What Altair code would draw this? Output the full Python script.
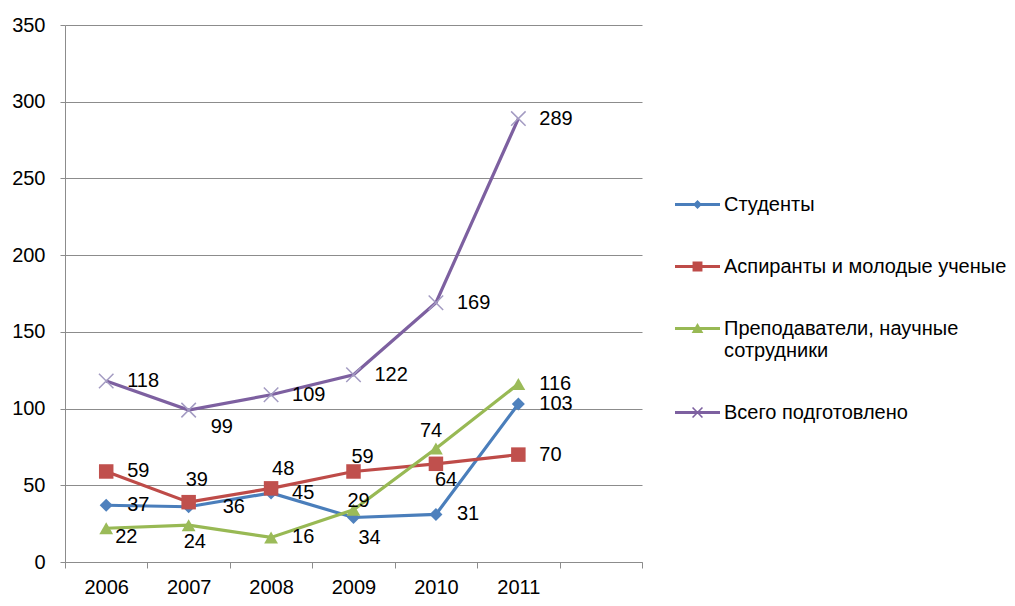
import math
import altair as alt
import pandas as pd

YEARS = ["2006", "2007", "2008", "2009", "2010", "2011"]
SERIES = [
    "Студенты",
    "Аспиранты и молодые ученые",
    "Преподаватели, научные сотрудники",
    "Всего подготовлено",
]
STUDENTS = [37, 36, 45, 29, 31, 103]
POSTGRADS = [59, 39, 48, 59, 64, 70]
TEACHERS = [22, 24, 16, 34, 74, 116]
TOTAL = [118, 99, 109, 122, 169, 289]
VALUES = [STUDENTS, POSTGRADS, TEACHERS, TOTAL]
Y_TICKS = [0, 50, 100, 150, 200, 250, 300, 350]

# styling
LINE_COLORS = ["#4A7EBB", "#BE4B48", "#98B954", "#7D60A0"]
MARK_COLORS = ["#4F81BD", "#C0504D", "#9BBB59", "#A39BC2"]
FONT = "Liberation Sans"
FS = 20
GRID = "#8C8C8C"
DEFAULT_NUDGE = (21, 0)
LABEL_NUDGE = {
    (3, "2007"): (22, 17),
    (1, "2007"): (-3, -22),
    (1, "2008"): (1, -19),
    (1, "2009"): (-2, -14),
    (1, "2010"): (-1, 16),
    (0, "2007"): (34, 0),
    (0, "2009"): (-6, -17),
    (2, "2006"): (9, 9),
    (2, "2007"): (-5, 17),
    (2, "2009"): (5, 28),
    (2, "2010"): (-16, -17),
}

rows = []
for si, (name, vals) in enumerate(zip(SERIES, VALUES)):
    for y, v in zip(YEARS, vals):
        dx, dy = LABEL_NUDGE.get((si, y), DEFAULT_NUDGE)
        rows.append({"series": name, "sidx": si, "year": y, "value": v, "ndx": dx, "ndy": dy})
df = pd.DataFrame(rows)

x_enc = alt.X(
    "year:O",
    scale=alt.Scale(type="band", domain=YEARS + [" "], paddingInner=0, paddingOuter=0),
    axis=alt.Axis(
        title=None, labelAngle=0, tickBand="extent", tickSize=6, labelPadding=9,
        labelFont=FONT, labelFontSize=FS, labelColor="#000000",
        domainColor=GRID, tickColor=GRID, grid=False,
    ),
)
y_enc = alt.Y(
    "value:Q",
    scale=alt.Scale(domain=[0, 350], nice=False, zero=True),
    axis=alt.Axis(
        title=None, values=Y_TICKS, grid=True, gridColor=GRID, gridOpacity=1,
        domainColor=GRID, tickColor=GRID, tickSize=5, labelPadding=15,
        labelFont=FONT, labelFontSize=FS, labelColor="#000000",
    ),
)


# legend symbol paths: a bar (the line) plus the marker, all filled
def bar(s=0.0):
    return f"M-1,{s-0.067:.3f}H1V{s+0.067:.3f}H-1Z"


def arm(x0, y0, x1, y1, w=0.035):
    dx, dy = x1 - x0, y1 - y0
    L = math.hypot(dx, dy)
    px, py = -dy / L * w, dx / L * w
    pts = [(x0 - px, y0 - py), (x1 - px, y1 - py), (x1 + px, y1 + py), (x0 + px, y0 + py)]
    return "M" + "L".join(f"{a:.3f},{b:.3f}" for a, b in pts) + "Z"


P_DIAMOND = bar() + "M0,-0.2L0.2,0L0,0.2L-0.2,0Z"
P_SQUARE = bar() + "M-0.22,-0.22H0.22V0.22H-0.22Z"
P_TRI = bar() + "M0,-0.24L0.26,0.2H-0.26Z"
P_X = bar() + arm(-0.22, -0.22, 0.22, 0.22) + arm(-0.22, 0.22, 0.22, -0.22)

label_expr = (
    f"datum.label === '{SERIES[2]}' ? ['Преподаватели, научные', 'сотрудники'] : datum.label"
)

legend = alt.Legend(
    title=None, orient="none", legendX=610, legendY=157, padding=0,
    symbolSize=2025, symbolStrokeWidth=0, symbolOpacity=1,
    labelFont=FONT, labelFontSize=FS, labelColor="#000000", labelLimit=500,
    labelOffset=4, rowPadding=29, labelExpr=label_expr,
)

base = alt.Chart(df)

# legend carrier: no rows drawn, only provides the merged color+shape legend
legend_layer = (
    base.transform_filter("false")
    .mark_point(filled=True, opacity=1)
    .encode(
        x=x_enc, y=y_enc,
        color=alt.Color("series:N", scale=alt.Scale(domain=SERIES, range=LINE_COLORS), legend=legend),
        shape=alt.Shape("series:N", scale=alt.Scale(domain=SERIES, range=[P_DIAMOND, P_SQUARE, P_TRI, P_X]), legend=legend),
    )
)

lines = base.mark_line(strokeWidth=3.2).encode(
    x=x_enc, y=y_enc,
    stroke=alt.Stroke("series:N", scale=alt.Scale(domain=SERIES, range=LINE_COLORS), legend=None),
    order="year:O",
)

layers = [legend_layer, lines]
shapes = ["diamond", "square", "triangle-up"]
sizes = [170, 210, 190]
for si in range(3):
    layers.append(
        base.transform_filter(alt.datum.sidx == si)
        .mark_point(shape=shapes[si], filled=True, size=sizes[si], opacity=1,
                    color=MARK_COLORS[si])
        .encode(x=x_enc, y=y_enc)
    )
layers.append(
    base.transform_filter(alt.datum.sidx == 3)
    .mark_point(shape="M-1,-1L1,1M-1,1L1,-1", filled=False, size=210, opacity=1,
                stroke=MARK_COLORS[3], strokeWidth=1.5)
    .encode(x=x_enc, y=y_enc)
)

combos = sorted(set(zip(df["ndx"], df["ndy"])))
for dx, dy in combos:
    layers.append(
        base.transform_filter((alt.datum.ndx == int(dx)) & (alt.datum.ndy == int(dy)))
        .mark_text(align="left", baseline="middle", dx=int(dx), dy=int(dy),
                   font=FONT, fontSize=FS, color="#000000")
        .encode(x=x_enc, y=y_enc, text="value:Q")
    )

chart = (
    alt.layer(*layers)
    .properties(
        width=577, height=537,
        autosize=alt.AutoSizeParams(type="none"),
        padding={"left": 57, "top": 17, "right": 365, "bottom": 36},
        background="#ffffff",
    )
    .configure_view(stroke=None)
)

chart.save("out.html", embed_options={"renderer": "svg", "actions": False})
